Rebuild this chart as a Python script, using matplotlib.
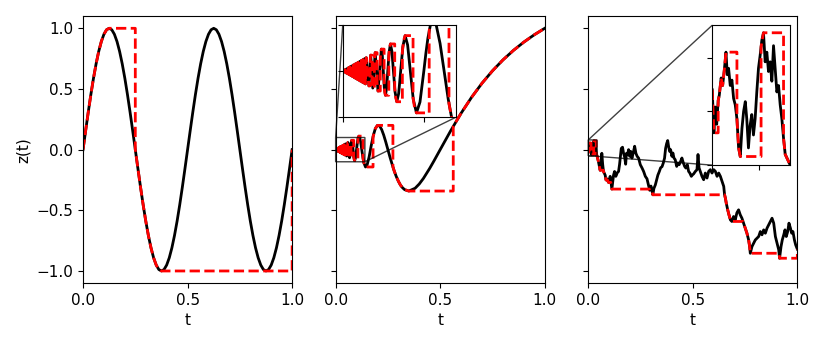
import numpy as np
import matplotlib
matplotlib.use("Agg")
import matplotlib.pyplot as plt

# ---- panel 1: z(t) on a regular grid of 81 samples, and its red staircase ----
z1 = [0.0, 0.156, 0.309, 0.454, 0.588, 0.707, 0.809, 0.891, 0.951, 0.988,
      1.0, 0.988, 0.951, 0.891, 0.809, 0.707, 0.588, 0.454, 0.309, 0.156,
      0.0, -0.156, -0.309, -0.454, -0.588, -0.707, -0.809, -0.891, -0.951, -0.988,
      -1.0, -0.988, -0.951, -0.891, -0.809, -0.707, -0.588, -0.454, -0.309, -0.156,
      0.0, 0.156, 0.309, 0.454, 0.588, 0.707, 0.809, 0.891, 0.951, 0.988,
      1.0, 0.988, 0.951, 0.891, 0.809, 0.707, 0.588, 0.454, 0.309, 0.156,
      0.0, -0.156, -0.309, -0.454, -0.588, -0.707, -0.809, -0.891, -0.951, -0.988,
      -1.0, -0.988, -0.951, -0.891, -0.809, -0.707, -0.588, -0.454, -0.309, -0.156,
      0.0]
t1 = np.linspace(0, 1, len(z1))

red1_t = [0.0, 0.0125, 0.025, 0.0375, 0.05, 0.0625, 0.075, 0.0875, 0.1, 0.1125, 0.125,
          0.25, 0.25, 0.2625, 0.275, 0.2875, 0.3, 0.3125, 0.325, 0.3375, 0.35, 0.3625, 0.375,
          1.0, 1.0]
red1_z = [0.0, 0.156, 0.309, 0.454, 0.588, 0.707, 0.809, 0.891, 0.951, 0.988, 1.0,
          1.0, 0.0, -0.156, -0.309, -0.454, -0.588, -0.707, -0.809, -0.891, -0.951, -0.988, -1.0,
          -1.0, 0.0]

# ---- panel 2: chirp that oscillates faster and faster towards t = 0 ----
zig_t = [0.0, 0.001, 0.002, 0.003, 0.004, 0.005, 0.006, 0.007, 0.008, 0.009,
         0.010, 0.011, 0.012, 0.013, 0.014, 0.015, 0.016, 0.017, 0.018, 0.019,
         0.020, 0.021, 0.022, 0.023, 0.024, 0.025, 0.026, 0.027, 0.028, 0.029]
zig_z = [0.0, 0.001, -0.002, 0.003, -0.004, 0.005, -0.006, 0.007, -0.008, 0.009,
         -0.010, 0.011, -0.012, 0.013, -0.014, 0.015, -0.016, 0.017, -0.018, 0.019,
         -0.020, 0.021, -0.022, 0.023, -0.024, 0.025, -0.026, 0.027, -0.028, 0.029]

t2 = zig_t + [
    0.03226, 0.03448, 0.03704, 0.04, 0.04348, 0.04762,
    0.04878, 0.05, 0.05128, 0.05263, 0.05405, 0.05556, 0.05714, 0.05882, 0.06061, 0.0625,
    0.06452, 0.06667, 0.06897, 0.07143, 0.07407, 0.07692, 0.08, 0.08333, 0.08696, 0.09091,
    0.09524, 0.1,
    0.1025, 0.105, 0.108, 0.1111, 0.115, 0.12, 0.125, 0.13, 0.135, 0.1429,
    0.15, 0.16, 0.1667, 0.17, 0.18, 0.19, 0.2, 0.21, 0.22, 0.23,
    0.24, 0.25, 0.26, 0.27, 0.28, 0.29, 0.30, 0.31, 0.32, 0.33,
    0.35, 0.38, 0.40, 0.42, 0.45, 0.47, 0.50, 0.55, 0.60, 0.65,
    0.70, 0.75, 0.80, 0.85, 0.90, 0.95, 1.0]
z2 = zig_z + [
    -0.0323, 0.0345, -0.0370, 0.040, -0.0435, 0.0476,
    0.0345, 0.0, -0.0363, -0.0526, -0.0382, 0.0, 0.0404, 0.0588, 0.0429, 0.0,
    -0.0456, -0.0667, -0.0488, 0.0, 0.0524, 0.0769, 0.0566, 0.0, -0.0615, -0.0909,
    -0.0673, 0.0,
    0.0382, 0.0714, 0.0991, 0.1111, 0.102, 0.060, 0.0, -0.0604, -0.1082, -0.1429,
    -0.1299, -0.0612, 0.0, 0.0312, 0.1157, 0.174, 0.2, 0.1955, 0.1663, 0.1195,
    0.0621, 0.0, -0.0622, -0.1194, -0.1746, -0.2213, -0.2598, -0.2921, -0.3139, -0.3296,
    -0.3412, -0.3183, -0.2828, -0.2366, -0.1539, -0.0937, 0.0, 0.1549, 0.30, 0.431,
    0.5473, 0.6495, 0.7391, 0.8175, 0.8863, 0.9467, 1.0]

red2_t = zig_t + [
    0.03226, 0.03378, 0.03378, 0.03413, 0.03448,
    0.03623, 0.03623, 0.03663, 0.03704,
    0.03906, 0.03906, 0.03953, 0.04,
    0.04237, 0.04237, 0.04292, 0.04348,
    0.0463, 0.0463, 0.04695, 0.04762,
    0.05102, 0.05102, 0.05181, 0.05263,
    0.05682, 0.05682, 0.0578, 0.05882,
    0.0641, 0.0641, 0.06536, 0.06667,
    0.07353, 0.07353, 0.07519, 0.07692,
    0.0867, 0.0867, 0.0885, 0.09091,
    0.1066, 0.1066, 0.108, 0.1111,
    0.131, 0.131, 0.135, 0.1429,
    0.179, 0.179, 0.19, 0.2,
    0.274, 0.274, 0.28, 0.29, 0.30, 0.31, 0.32, 0.33, 0.35,
    0.5625, 0.5625, 0.60, 0.65, 0.70, 0.75, 0.80, 0.85, 0.90, 0.95, 1.0]
red2_z = zig_z + [
    -0.0323, -0.0323, 0.0199, 0.0304, 0.0345,
    0.0345, -0.0213, -0.0326, -0.0370,
    -0.0370, 0.0230, 0.0352, 0.040,
    0.040, -0.0249, -0.0382, -0.0435,
    -0.0435, 0.0272, 0.0418, 0.0476,
    0.0476, -0.030, -0.0462, -0.0526,
    -0.0526, 0.0334, 0.0515, 0.0588,
    0.0588, -0.0377, -0.0582, -0.0667,
    -0.0667, 0.0432, 0.067, 0.0769,
    0.0769, -0.058, -0.0789, -0.0909,
    -0.0909, 0.088, 0.0991, 0.1111,
    0.1111, -0.071, -0.1082, -0.1429,
    -0.1429, 0.105, 0.174, 0.2,
    0.2, -0.1434, -0.1746, -0.2213, -0.2598, -0.2921, -0.3139, -0.3296, -0.3412,
    -0.3412, 0.1924, 0.30, 0.431, 0.5473, 0.6495, 0.7391, 0.8175, 0.8863, 0.9467, 1.0]

t3 = [0.0, 0.0009, 0.0016, 0.0024, 0.0032, 0.0038, 0.0048, 0.0056, 0.0066, 0.0074,
      0.0081, 0.0088, 0.0097, 0.0106, 0.0115, 0.0124, 0.0133, 0.0142, 0.0151, 0.0160,
      0.0169, 0.0178, 0.0186, 0.0195, 0.0204, 0.0213, 0.0222, 0.0231, 0.0240, 0.0249,
      0.0258, 0.0267, 0.0276, 0.0285, 0.0294, 0.0303, 0.0312, 0.0321, 0.0330, 0.0339,
      0.0348, 0.0357, 0.0366, 0.0375, 0.0384, 0.0393, 0.042,
      0.049, 0.057, 0.062, 0.065, 0.069, 0.073, 0.081, 0.085, 0.089, 0.097,
      0.105, 0.113, 0.121, 0.126, 0.132, 0.139, 0.145, 0.150, 0.155, 0.158,
      0.164, 0.169, 0.174, 0.179, 0.183, 0.188, 0.193, 0.198, 0.203, 0.209,
      0.215, 0.222, 0.228, 0.234, 0.241, 0.249, 0.257, 0.265, 0.273, 0.281,
      0.289, 0.294, 0.300, 0.305, 0.309, 0.314, 0.321, 0.327, 0.333, 0.340,
      0.346, 0.353, 0.359, 0.365, 0.370, 0.375, 0.380, 0.384, 0.389, 0.394,
      0.400, 0.405, 0.410, 0.416, 0.423, 0.429, 0.435, 0.442, 0.448, 0.455,
      0.461, 0.467, 0.474, 0.480, 0.486, 0.493, 0.499, 0.504, 0.512, 0.520,
      0.525, 0.530, 0.536, 0.544, 0.552, 0.560, 0.568, 0.576, 0.584, 0.592,
      0.600, 0.608, 0.616, 0.624, 0.632, 0.640, 0.648, 0.652, 0.656, 0.660,
      0.667, 0.673, 0.680, 0.687, 0.695, 0.703, 0.711, 0.719, 0.727, 0.735,
      0.743, 0.751, 0.759, 0.767, 0.772, 0.775, 0.783, 0.791, 0.799, 0.807,
      0.815, 0.823, 0.831, 0.839, 0.847, 0.855, 0.863, 0.871, 0.879, 0.887,
      0.895, 0.903, 0.911, 0.915, 0.922, 0.928, 0.935, 0.941, 0.947, 0.954,
      0.960, 0.967, 0.973, 0.979, 0.986, 0.992, 1.0]
z3 = [0.020, -0.020, 0.004, -0.012, 0.010, 0.015, 0.031, 0.024, 0.040, 0.055,
      0.034, 0.040, 0.024, 0.029, 0.012, 0.006, -0.007, -0.034, -0.042, -0.016,
      0.000, 0.009, -0.007, -0.034, -0.013, -0.003, -0.022, -0.007, 0.018, 0.040,
      0.052, 0.066, 0.073, 0.046, 0.055, 0.037, 0.046, 0.028, 0.061, 0.040,
      0.018, 0.024, 0.006, -0.007, -0.025, -0.040, -0.050,
      -0.10, -0.17, -0.13, -0.03, -0.12, -0.18, -0.21, -0.25, -0.24, -0.27,
      -0.22, -0.325, -0.21, -0.18, -0.22, -0.19, -0.18, -0.12, -0.04, 0.01,
      0.02, -0.03, -0.06, -0.12, -0.03, -0.04, 0.00, -0.055, -0.014, -0.07,
      -0.028, 0.028, -0.03, -0.055, -0.07, -0.124, -0.15, -0.18, -0.22, -0.24,
      -0.30, -0.335, -0.30, -0.34, -0.372, -0.32, -0.29, -0.25, -0.21, -0.18,
      -0.15, -0.14, -0.11, -0.07, 0.01, 0.05, 0.075, 0.03, -0.014, 0.00,
      -0.055, -0.028, -0.069, -0.083, -0.138, -0.11, -0.124, -0.096, -0.069, -0.11,
      -0.138, -0.152, -0.124, -0.179, -0.193, -0.22, -0.207, -0.20, -0.18, -0.165,
      -0.04, -0.15, -0.179, -0.22, -0.248, -0.193, -0.234, -0.179, -0.165, -0.193,
      -0.165, -0.179, -0.22, -0.193, -0.22, -0.262, -0.303, -0.372, -0.40, -0.44,
      -0.496, -0.537, -0.579, -0.592, -0.551, -0.579, -0.52, -0.496, -0.537, -0.565,
      -0.606, -0.647, -0.689, -0.744, -0.80, -0.854, -0.799, -0.771, -0.744, -0.73,
      -0.716, -0.675, -0.702, -0.661, -0.689, -0.647, -0.62, -0.592, -0.565, -0.606,
      -0.716, -0.771, -0.826, -0.895, -0.799, -0.744, -0.702, -0.661, -0.716, -0.675,
      -0.606, -0.647, -0.689, -0.675, -0.744, -0.785, -0.82]

red3_t = [0.0, 0.0009, 0.0032, 0.0032, 0.0038, 0.0048, 0.0056, 0.0066, 0.0074,
          0.0133, 0.0133, 0.0142, 0.0151, 0.0263, 0.0263, 0.0276, 0.0384, 0.0384,
          0.0393, 0.042, 0.049, 0.057, 0.072, 0.073, 0.081, 0.085, 0.092, 0.097,
          0.108, 0.113, 0.292, 0.294, 0.303, 0.305, 0.309, 0.652, 0.656, 0.660,
          0.667, 0.673, 0.680, 0.687, 0.740, 0.743, 0.751, 0.759, 0.767, 0.772,
          0.775, 0.913, 0.915, 1.0, 1.0]
red3_z = [0.020, -0.020, -0.020, 0.010, 0.015, 0.031, 0.024, 0.040, 0.055,
          0.055, -0.007, -0.034, -0.042, -0.042, 0.060, 0.073, 0.073, -0.025,
          -0.040, -0.050, -0.10, -0.17, -0.17, -0.18, -0.21, -0.25, -0.25, -0.27,
          -0.27, -0.325, -0.325, -0.335, -0.335, -0.34, -0.372, -0.372, -0.40, -0.44,
          -0.496, -0.537, -0.579, -0.592, -0.592, -0.606, -0.647, -0.689, -0.744, -0.80,
          -0.854, -0.854, -0.895, -0.895, -0.82]


def draw(ax, t, z, rt, rz):
    ax.plot(t, z, color="black", lw=2)
    ax.plot(rt, rz, color="red", lw=2, ls="--")


fig, axes = plt.subplots(1, 3, figsize=(8.22, 3.44), dpi=100, sharey=True)
fig.subplots_adjust(left=0.101, right=0.970, bottom=0.177, top=0.953, wspace=0.208)

panels = [(t1, z1, red1_t, red1_z), (t2, z2, red2_t, red2_z), (t3, z3, red3_t, red3_z)]
for ax, (t, z, rt, rz) in zip(axes, panels):
    draw(ax, t, z, rt, rz)
    ax.set_xlim(0, 1)
    ax.set_xticks([0, 0.5, 1.0])
    ax.set_xlabel("t", fontsize=11)
    ax.tick_params(labelsize=11)
axes[0].set_ylim(-1.1, 1.1)
axes[0].set_yticks([-1.0, -0.5, 0.0, 0.5, 1.0])
axes[0].set_ylabel("z(t)", fontsize=11)

# zoomed insets: bounds in axes fraction, limits, ticks
insets = [
    (axes[1], [0.034, 0.622, 0.543, 0.345], (0, 0.14), (-0.1, 0.1),
     [0, 0.1], [-0.1, 0, 0.1], panels[1]),
    (axes[2], [0.593, 0.442, 0.373, 0.524], (0, 0.042), (-0.05, 0.08),
     [0, 0.025], [-0.05, 0, 0.05], panels[2]),
]
for ax, bounds, xl, yl, xt, yt, (t, z, rt, rz) in insets:
    axins = ax.inset_axes(bounds)
    draw(axins, t, z, rt, rz)
    axins.set_xlim(*xl)
    axins.set_ylim(*yl)
    axins.set_xticks(xt)
    axins.set_yticks(yt)
    axins.tick_params(labelleft=False, labelbottom=False)
    ax.indicate_inset_zoom(axins, edgecolor="black", alpha=0.75)

fig.savefig("out.png", dpi=100)
